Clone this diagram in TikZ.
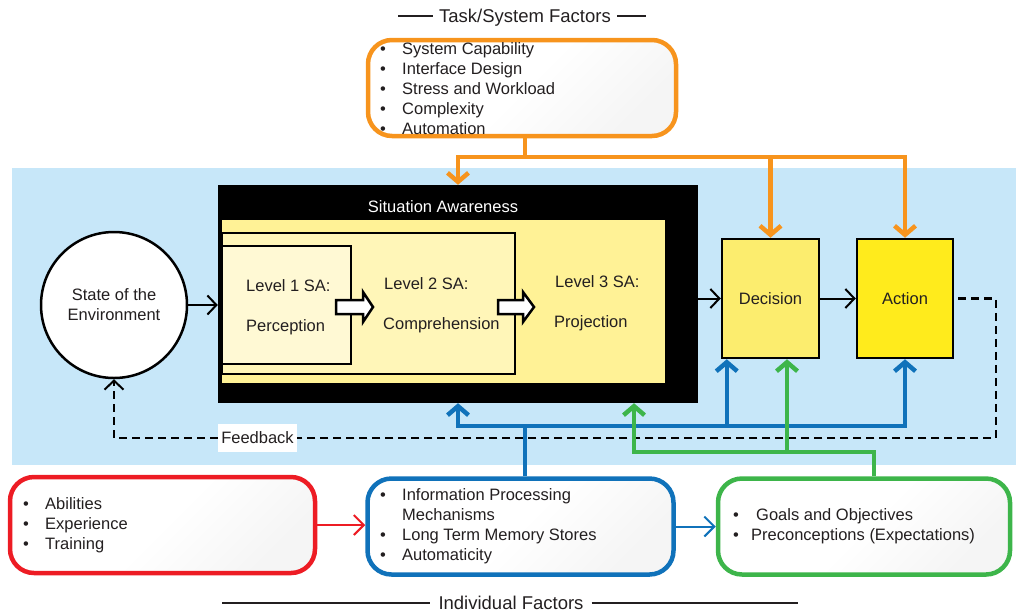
\documentclass[tikz,border=0pt]{standalone}
\usepackage{fontspec}
\setmainfont{Liberation Sans}
\usetikzlibrary{arrows.meta}
\definecolor{bgblue}{RGB}{199,231,249}
\definecolor{orangec}{RGB}{247,148,29}
\definecolor{bluec}{RGB}{16,114,186}
\definecolor{greenc}{RGB}{61,181,74}
\definecolor{redc}{RGB}{237,28,36}
\definecolor{lvlthree}{RGB}{255,242,150}
\definecolor{lvltwo}{RGB}{255,246,184}
\definecolor{lvlone}{RGB}{255,249,212}
\definecolor{decy}{RGB}{252,237,110}
\definecolor{acty}{RGB}{255,235,28}
\definecolor{txt}{RGB}{35,31,32}
\newcommand{\mybul}[1][22pt]{\makebox[#1][l]{\textbullet}}
\begin{document}
\begin{tikzpicture}[x=1pt,y=-1pt,
  every node/.style={text=txt, font=\fontsize{16.5}{20}\selectfont},
  factbox/.style={draw, line width=4.5pt, rounded corners=24pt, top color=white, bottom color=black!4, middle color=white, shading angle=45, minimum height=96pt, inner sep=0pt},
  lvl/.style={draw=black, line width=2.5pt, inner sep=0pt},
  colline/.style={line width=4.5pt},
  coltip/.style={-{Straight Barb[length=9pt,width=21pt]}},
  blktip/.style={line width=2pt, -{Straight Barb[length=9pt,width=19pt]}},
  fbline/.style={dash pattern=on 8pt off 5pt, line width=2.2pt},
  lbl/.style={inner sep=0pt, anchor=base west},
  ttl/.style={font=\fontsize{18.5}{22}\selectfont},
  titleline/.style={line width=1.2pt, draw=txt},
  blockarrow/.style={draw=black, fill=white, line width=2.5pt, line join=miter}
]
\useasboundingbox (0,0) rectangle (1016,614);
\fill[bgblue] (12,168) rectangle (1016,465);

% Task / system factors
\node[ttl, inner sep=6pt] (tstitle) at (525,18) {Task/System Factors};
\coordinate (tsl) at (398,16);
\coordinate (tsr) at (646,16);
\draw[titleline] (tsl) -- (tsl -| tstitle.west);
\draw[titleline] (tstitle.east |- tsr) -- (tsr);
\node[factbox, draw=orangec, minimum width=308pt] (task) at (522,88) {};
\node[lbl] (tasklist) at (380,54) {\begin{tabular}[t]{@{}l@{}}\mybul System Capability\\ \mybul Interface Design\\ \mybul Stress and Workload\\ \mybul Complexity\\ \mybul Automation\end{tabular}};

% Situation awareness block
\node[fill=black, minimum width=480pt, minimum height=218pt, inner sep=0pt] (sa) at (458,294) {};
\node[fill=lvlthree, minimum width=443pt, minimum height=163pt, inner sep=0pt] (l3) at (443.5,301.5) {};
\node[lvl, fill=lvltwo, minimum width=293pt, minimum height=141pt] (l2) at (368.5,303.5) {};
\node[lvl, fill=lvlone, minimum width=129pt, minimum height=118pt] (l1) at (286.5,305) {};
\node[text=white, inner sep=0pt, anchor=base] (satitle) at (443,212) {Situation Awareness};
\node[lbl] (l1a) at (246,291) {Level 1 SA:};
\node[lbl] (l1b) at (246,331) {Perception};
\node[lbl] (l2a) at (384,289) {Level 2 SA:};
\node[lbl] (l2b) at (383,329) {Comprehension};
\node[lbl] (l3a) at (555,287) {Level 3 SA:};
\node[lbl] (l3b) at (554,327) {Projection};
\draw[blockarrow] (336,300) -- (363,300) -- (363,292) -- (373,307) -- (363,322) -- (363,314) -- (336,314) -- cycle;
\draw[blockarrow] (498,300) -- (523,300) -- (523,292) -- (534,307) -- (523,322) -- (523,314) -- (498,314) -- cycle;

% Environment, decision, action
\node[circle, draw=black, line width=2.5pt, fill=white, minimum size=146pt, inner sep=0pt, align=center] (env) at (114,305) {State of the\\Environment};
\node[draw=black, line width=2.5pt, fill=decy, minimum width=97pt, minimum height=119pt, inner sep=0pt] (dec) at (770.5,298.5) {Decision};
\node[draw=black, line width=2.5pt, fill=acty, minimum width=96pt, minimum height=119pt, inner sep=0pt] (act) at (905,298.5) {Action};
\node[fill=white, minimum width=79pt, minimum height=28pt, inner sep=0pt] (fb) at (257.5,438) {Feedback};

% Individual factors
\node[factbox, draw=redc, minimum width=305pt] (abil) at (162.5,525) {};
\node[factbox, draw=bluec, minimum width=306pt] (info) at (520.5,526.5) {};
\node[factbox, draw=greenc, minimum width=292pt] (goals) at (864,526.5) {};
\node[lbl] (abiltxt) at (23,509) {\begin{tabular}[t]{@{}l@{}}\mybul Abilities\\ \mybul Experience\\ \mybul Training\end{tabular}};
\node[lbl] (infotxt) at (380,500) {\begin{tabular}[t]{@{}l@{}}\mybul Information Processing\\ \hspace{22pt}Mechanisms\\ \mybul Long Term Memory Stores\\ \mybul Automaticity\end{tabular}};
\node[lbl] (goalstxt) at (733,520) {\begin{tabular}[t]{@{}l@{}}\mybul[23pt]Goals and Objectives\\ \mybul[18pt]Preconceptions (Expectations)\end{tabular}};
\node[ttl, inner sep=8pt] (indtitle) at (511,603) {Individual Factors};
\coordinate (ifl) at (222,603);
\coordinate (ifr) at (798,603);
\draw[titleline] (ifl) -- (ifl -| indtitle.west);
\draw[titleline] (indtitle.east |- ifr) -- (ifr);

% Feedback loop
\coordinate (fbr) at (996,438);
\draw[fbline] ([xshift=4pt]act.east) -| (fbr) -- (fb.east);
\draw[fbline, blktip] (fb.west) -| (env.south);

% Black flow arrows
\draw[blktip] (env.east) -- (env.east -| sa.west);
\draw[blktip] (sa.east |- dec.west) -- (dec.west);
\draw[blktip] (dec.east) -- (act.west);

% Arrows between individual factor boxes
\draw[line width=2pt, redc, -{Straight Barb[length=10pt,width=20pt]}] (abil.east) -- (abil.east -| info.west);
\draw[line width=2pt, bluec, -{Straight Barb[length=10pt,width=20pt]}] (info.east) -- (info.east -| goals.west);

% Blue connectors
\coordinate (by) at (0,426);
\coordinate (infotop) at ([xshift=4.5pt]info.north);
\coordinate (decb) at ([xshift=6pt]dec.south west);
\draw[colline, bluec, coltip] (infotop) |- (sa.south |- by) -- (sa.south);
\draw[colline, bluec, coltip] (sa.south |- by) -| (act.south);
\draw[colline, bluec, coltip] (decb |- by) -- (decb);

% Green connectors
\coordinate (gy) at (0,452);
\coordinate (goalstop) at ([xshift=10pt]goals.north);
\coordinate (sag) at ([xshift=176pt]sa.south);
\coordinate (decg) at ([xshift=16.5pt]dec.south);
\draw[colline, greenc, coltip] (goalstop) |- (sag |- gy) -- (sag);
\draw[colline, greenc, coltip] (decg |- gy) -- (decg);

% Orange connectors
\coordinate (oy) at (0,157);
\coordinate (tasksb) at ([xshift=3pt]task.south);
\draw[colline, orangec, coltip] (tasksb) |- (sa.north |- oy) -- (sa.north);
\draw[colline, orangec, coltip] (sa.north |- oy) -| (act.north);
\draw[colline, orangec, coltip] (dec.north |- oy) -- (dec.north);
\end{tikzpicture}
\end{document}
